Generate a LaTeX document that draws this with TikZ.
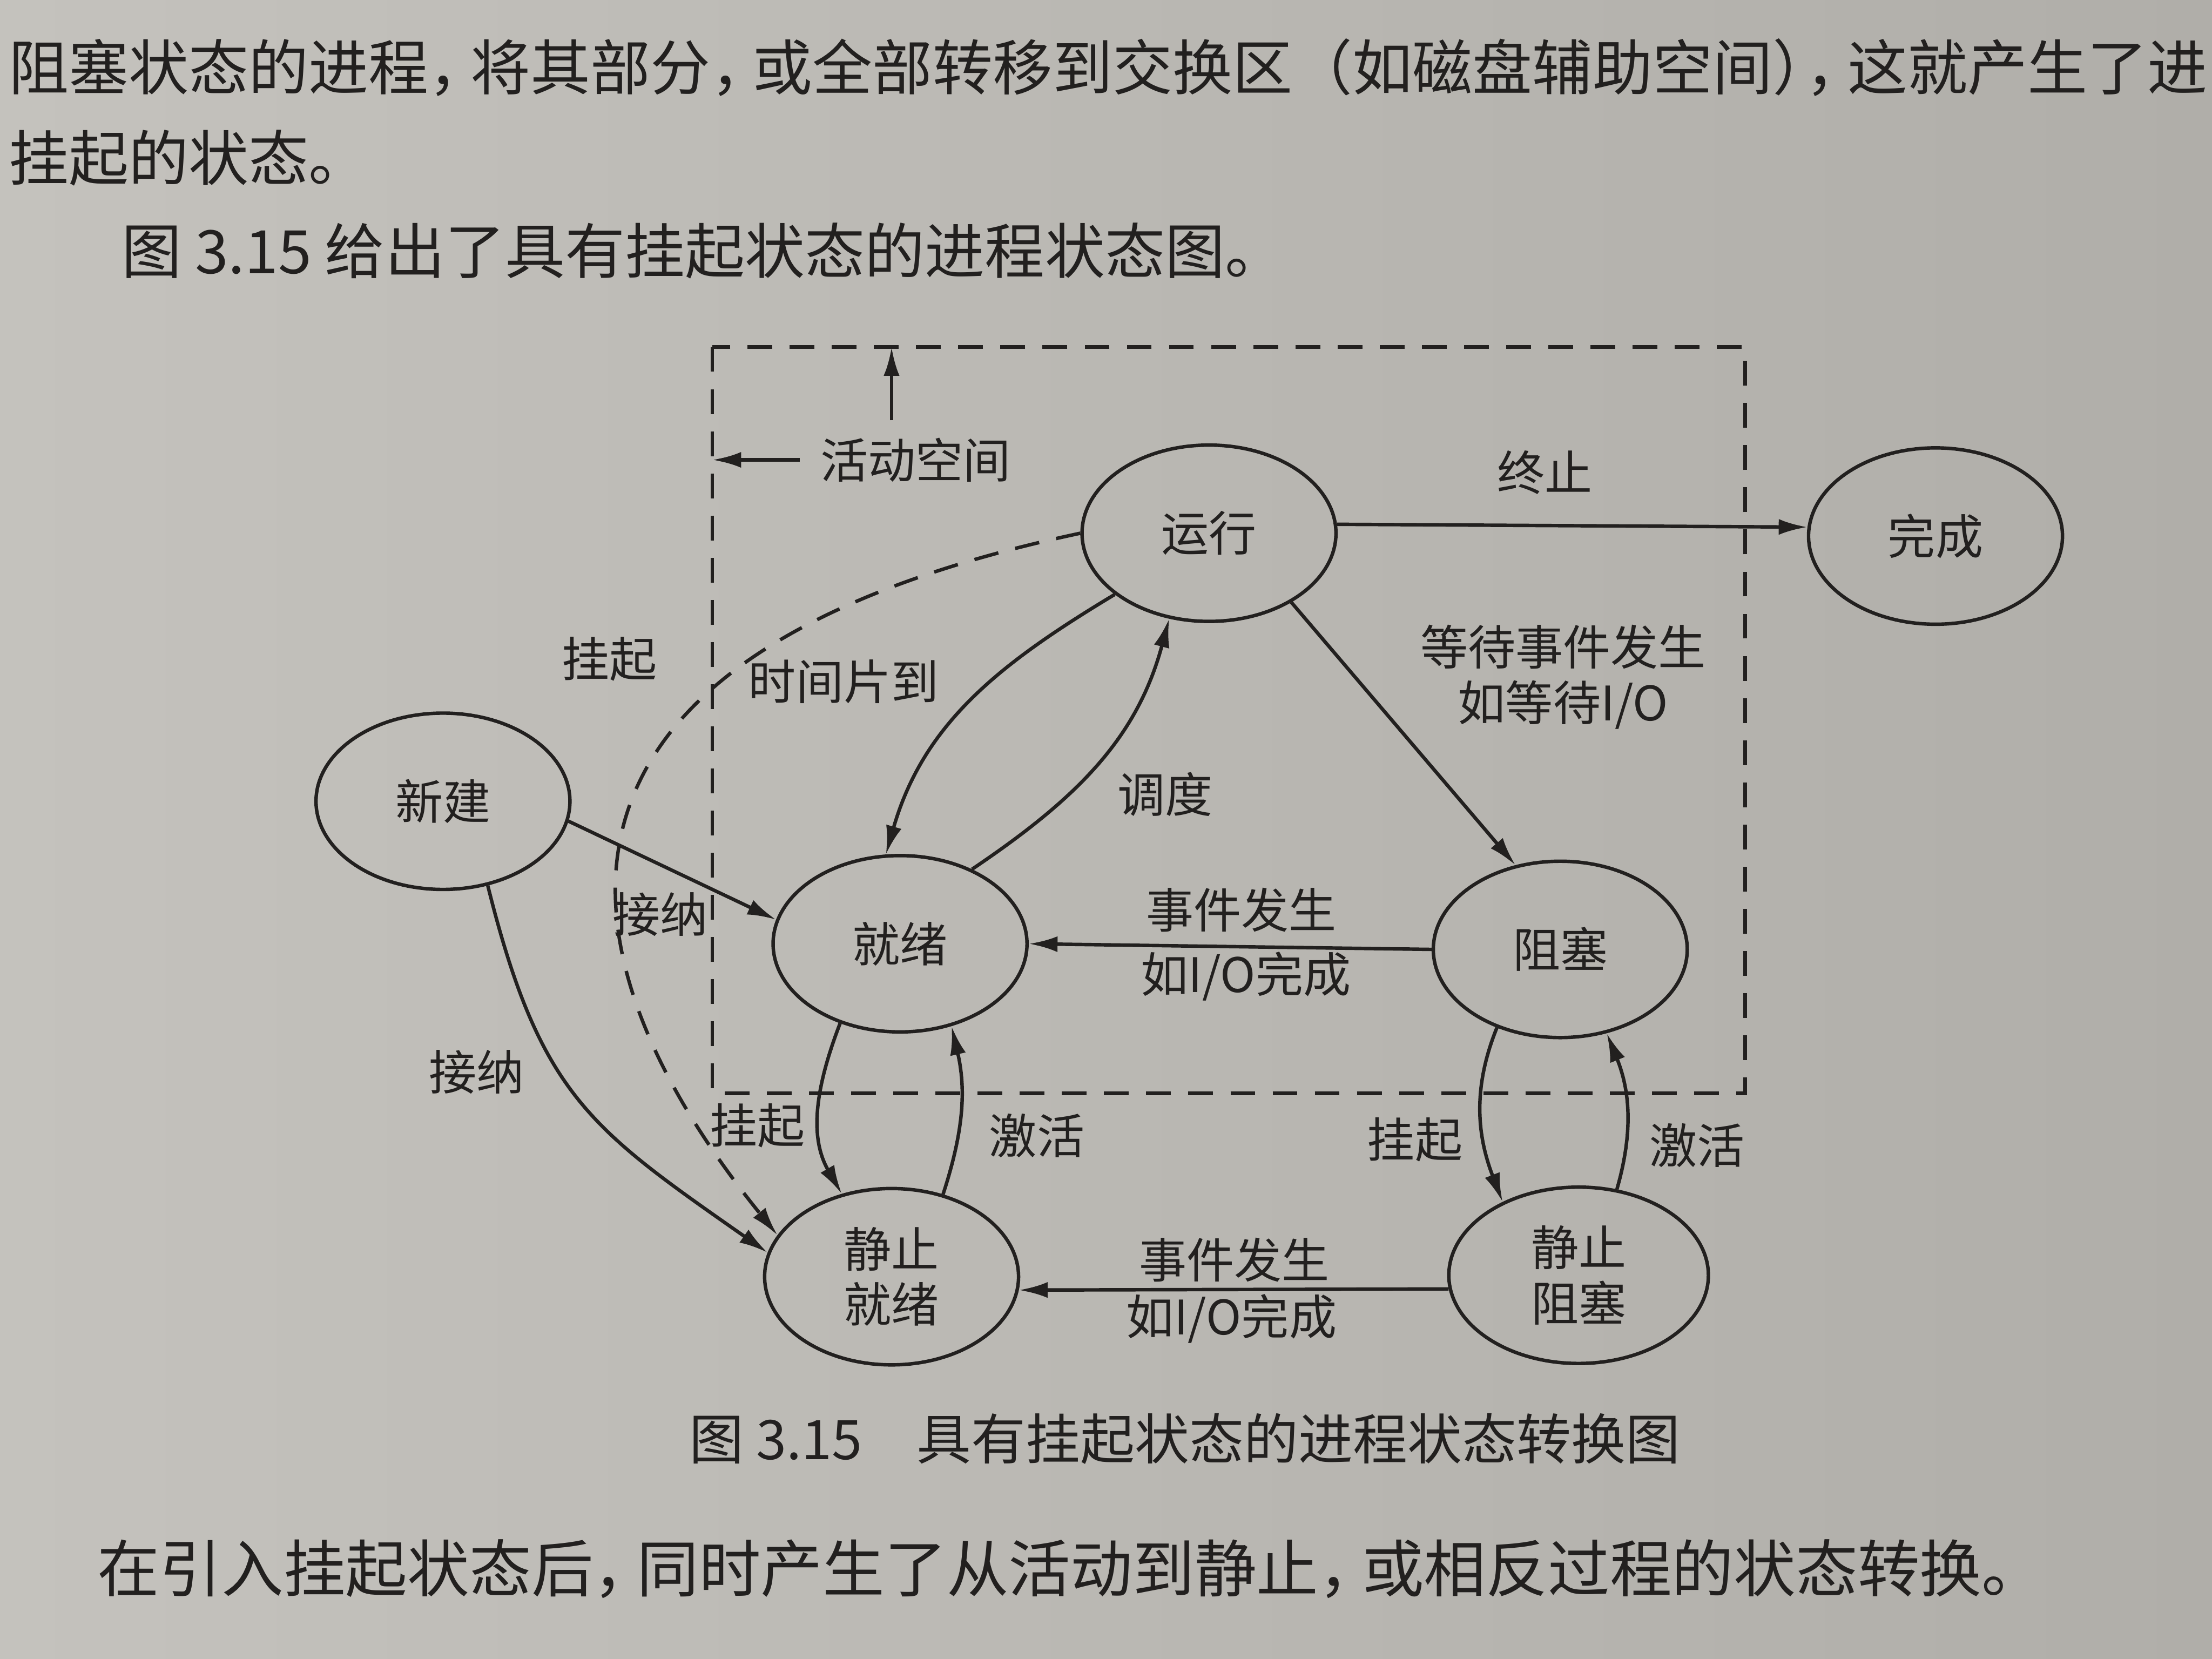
\documentclass[tikz,border=0pt]{standalone}
\usepackage{fontspec}
\setmainfont{Noto Sans CJK SC}
\usetikzlibrary{arrows.meta,shapes.geometric}
\definecolor{ink}{RGB}{34,32,31}
\definecolor{paperL}{RGB}{196,194,189}
\definecolor{paperR}{RGB}{176,174,169}
\newcommand{\lbfont}{\fontsize{9.6pt}{11.2pt}\selectfont}
\newcommand{\txfont}{\fontsize{12.1pt}{14pt}\selectfont}
\newcommand{\hcomma}{，\kern-.3em}

\begin{document}
\begin{tikzpicture}[>={Latex[length=5.8pt,width=3.2pt]}, line width=0.7pt, color=ink,
  state/.style={draw, ellipse, minimum width=18mm, minimum height=12.5mm, inner sep=0pt, align=center, font=\lbfont},
  lbl/.style={inner sep=1pt, font=\lbfont, align=center},
  txt/.style={inner sep=0pt, anchor=west, font=\txfont},
  dashline/.style={dash pattern=on 5pt off 3.5pt}]
  \useasboundingbox (0,0) rectangle (15.68,-11.76);
  \shade[left color=paperL, right color=paperR] (0,0) rectangle (15.68,-11.76);

  % page text
  \node[txt] (p1) at (0.05,-0.48) {阻塞状态的进程\hcomma 将其部分\hcomma 或全部转移到交换区（如磁盘辅助空间）\kern-.45em\hcomma 这就产生了进};
  \node[txt] (p2) at (0.05,-1.12) {挂起的状态。};
  \node[txt] (p3) at (0.85,-1.78) {图 3.15 给出了具有挂起状态的进程状态图。};
  \node[inner sep=0pt, font=\fontsize{11pt}{13pt}\selectfont] (cap) at (8.40,-10.20) {图 3.15\quad 具有挂起状态的进程状态转换图};
  \node[txt, font=\fontsize{12.5pt}{14pt}\selectfont] (p4) at (0.68,-11.12) {在引入挂起状态后\hcomma 同时产生了从活动到静止\hcomma 或相反过程的状态转换。};

  % states
  \node[state] (run) at (8.57,-3.78) {运行};
  \node[state] (done) at (13.72,-3.80) {完成};
  \node[state] (new) at (3.14,-5.68) {新建};
  \node[state] (ready) at (6.38,-6.69) {就绪};
  \node[state] (blocked) at (11.06,-6.73) {阻塞};
  \node[state] (sready) at (6.32,-9.05) {静止\\就绪};
  \node[state, minimum width=18.4mm] (sblocked) at (11.19,-9.04) {静止\\阻塞};

  % active space
  \coordinate (boxnw) at (5.05,-2.46);
  \coordinate (boxse) at (12.37,-7.75);
  \draw[dashline] (boxnw) rectangle (boxse);
  \node[lbl] (space) at (6.49,-3.26) {活动空间};
  \coordinate (upfoot) at (6.32,-2.98);
  \draw[->] (upfoot) -- (upfoot |- boxnw);
  \draw[->] ([xshift=-1mm]space.west) -- (space.west -| boxnw);

  % transitions
  \draw[->] (run.4) -- (done.176);
  \draw[->] (run.-40) -- (blocked.118);
  \draw[->] (run.213) to[out=211, in=74] (ready.99);
  \draw[->] (ready.46) to[out=34, in=255] (run.245);
  \draw[->] (blocked.west) -- (ready.east);
  \draw[->] (sblocked.186) -- (sready.-6);
  \draw[->] (new.-9) -- (ready.169);
  \draw[->] (new.298) to[out=284, in=145, looseness=1.2] (sready.169);
  \draw[->, dashline] (run.west) .. controls +(192:4.62) and +(129:2.07) .. (sready.160);
  \draw[->] (ready.233) to[out=249, in=120] (sready.121);
  \draw[->] (sready.58) to[out=72, in=283] (ready.302);
  \draw[->] (blocked.231) to[out=248, in=111] (sblocked.136);
  \draw[->] (sblocked.66) to[out=74, in=292] (blocked.299);

  % labels
  \node[lbl] (lbTerm) at (10.95,-3.35) {终止};
  \node[lbl] (lbWait) at (11.08,-4.80) {等待事件发生\\如等待I/O};
  \node[lbl] (lbSlice) at (5.98,-4.83) {时间片到};
  \node[lbl] (lbSched) at (8.26,-5.63) {调度};
  \node[lbl] (lbEvA) at (8.80,-6.45) {事件发生};
  \node[lbl] (lbDoneA) at (8.83,-6.92) {如I/O完成};
  \node[lbl] (lbEvB) at (8.75,-8.93) {事件发生};
  \node[lbl] (lbDoneB) at (8.73,-9.35) {如I/O完成};
  \node[lbl] (lbAccA) at (4.68,-6.48) {接纳};
  \node[lbl] (lbAccB) at (3.38,-7.60) {接纳};
  \node[lbl] (lbSuspA) at (4.32,-4.67) {挂起};
  \node[lbl] (lbSuspB) at (5.37,-7.98) {挂起};
  \node[lbl] (lbActB) at (7.35,-8.05) {激活};
  \node[lbl] (lbSuspC) at (10.03,-8.08) {挂起};
  \node[lbl] (lbActC) at (12.03,-8.12) {激活};
\end{tikzpicture}
\end{document}
